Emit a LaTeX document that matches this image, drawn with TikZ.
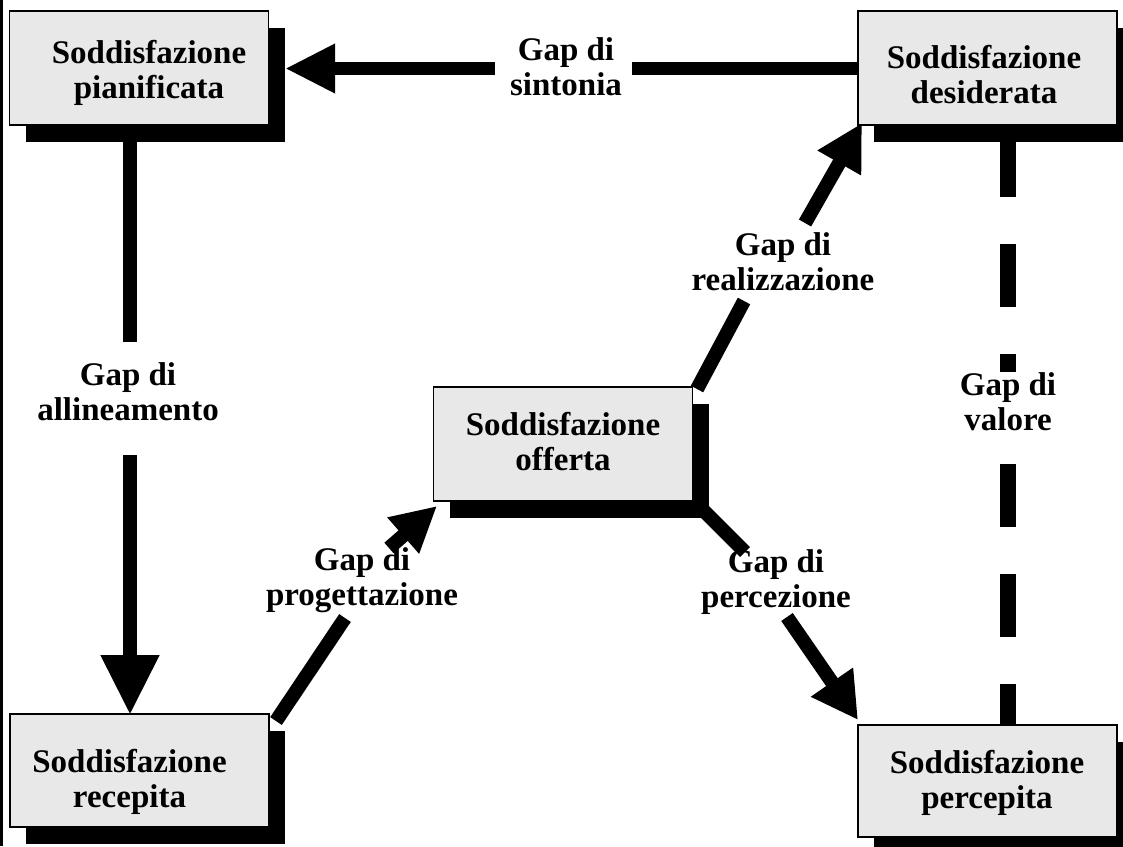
\documentclass[tikz,border=0pt]{standalone}
\usepackage{fontspec}
\setmainfont{Liberation Serif}
\usetikzlibrary{arrows.meta}
\definecolor{boxfill}{RGB}{232,232,232}
\begin{document}
\begin{tikzpicture}[x=1pt,y=-1pt,
  box/.style={draw=black, line width=1.5pt, fill=boxfill, minimum width=259pt, minimum height=114pt, inner sep=0pt},
  shadowbox/.style={fill=black, minimum width=259pt, minimum height=114pt, inner sep=0pt},
  txt/.style={align=center, inner sep=0pt, font=\fontsize{33}{35}\selectfont\bfseries},
  shaft/.style={line width=14pt, line cap=butt},
]
\useasboundingbox (0,0) rectangle (1123,846);
\clip (0,0) rectangle (1123,846);
\fill[white] (0,0) rectangle (1123,846);
\draw[line width=3pt] (1.5,0) -- (1.5,846);

% coordinates for connector pieces
\coordinate (s1a) at (858,68.5);
\coordinate (s1b) at (632,68.5);
\coordinate (s1c) at (495,68.5);
\coordinate (s1d) at (285,68.5);
\coordinate (a1a) at (130,130);
\coordinate (a1b) at (130,342);
\coordinate (a1c) at (130,455);
\coordinate (a1d) at (130,715);
\coordinate (r1a) at (697,389);
\coordinate (r1b) at (744,301);
\coordinate (r1c) at (805,223);
\coordinate (r1d) at (862,123);
\coordinate (p1a) at (276,721);
\coordinate (p1b) at (345,618);
\coordinate (p1c) at (389,548);
\coordinate (p1d) at (437,506);
\coordinate (c1a) at (700,507);
\coordinate (c1b) at (745,552);
\coordinate (c1c) at (787,617);
\coordinate (c1d) at (858,720);
\coordinate (v1a) at (1008,125);
\coordinate (v1b) at (1008,725);

% connectors
\draw[shaft, line width=12.5pt] (s1a) -- (s1b);
\draw[shaft, line width=12.5pt, -{Triangle[length=50pt,width=46pt]}] (s1c) -- (s1d);
\draw[shaft] (a1a) -- (a1b);
\draw[shaft, -{Triangle[length=60pt,width=55pt]}] (a1c) -- (a1d);
\draw[shaft] (r1a) -- (r1b);
\draw[shaft, -{Triangle[length=46pt,width=47pt]}] (r1c) -- (r1d);
\draw[shaft] (p1a) -- (p1b);
\draw[shaft, -{Triangle[length=45pt,width=45pt]}] (p1c) -- (p1d);
\draw[shaft] (c1a) -- (c1b);
\draw[shaft, -{Triangle[length=46pt,width=48pt]}] (c1c) -- (c1d);
\draw[line width=16pt, dash pattern=on 63pt off 47pt, dash phase=101pt] (v1a) -- (v1b);

% shadows
\node[shadowbox] (sh1) at (155,85) {};
\node[shadowbox] (sh2) at (1003.5,85) {};
\node[shadowbox] (sh3) at (579,461) {};
\node[shadowbox, minimum height=113pt] (sh4) at (155.5,787.5) {};
\node[shadowbox, minimum height=112pt] (sh5) at (1003.5,798) {};

% boxes
\node[box] (b1) at (139,68) {};
\node[box] (b2) at (987.5,68) {};
\node[box] (b3) at (563,444) {};
\node[box, minimum height=113pt] (b4) at (139.5,770.5) {};
\node[box, minimum height=112pt] (b5) at (987.5,781) {};

% box texts
\node[txt] (t1) at (149,73) {Soddisfazione\\pianificata};
\node[txt] (t2) at (984,75) {Soddisfazione\\desiderata};
\node[txt] (t3) at (563,441.5) {Soddisfazione\\offerta};
\node[txt] (t4) at (129.5,782) {Soddisfazione\\recepita};
\node[txt] (t5) at (987,783) {Soddisfazione\\percepita};

% gap labels
\node[txt] (l1) at (566,67) {Gap di\\sintonia};
\node[txt] (l2) at (128,391.5) {Gap di\\allineamento};
\node[txt] (l3) at (783,261.5) {Gap di\\realizzazione};
\node[txt] (l4) at (362,580) {Gap di\\progettazione};
\node[txt] (l5) at (776,582) {Gap di\\percezione};
\node[txt, fill=white] (l6) at (1008,401.5) {Gap di\\valore};
\end{tikzpicture}
\end{document}
